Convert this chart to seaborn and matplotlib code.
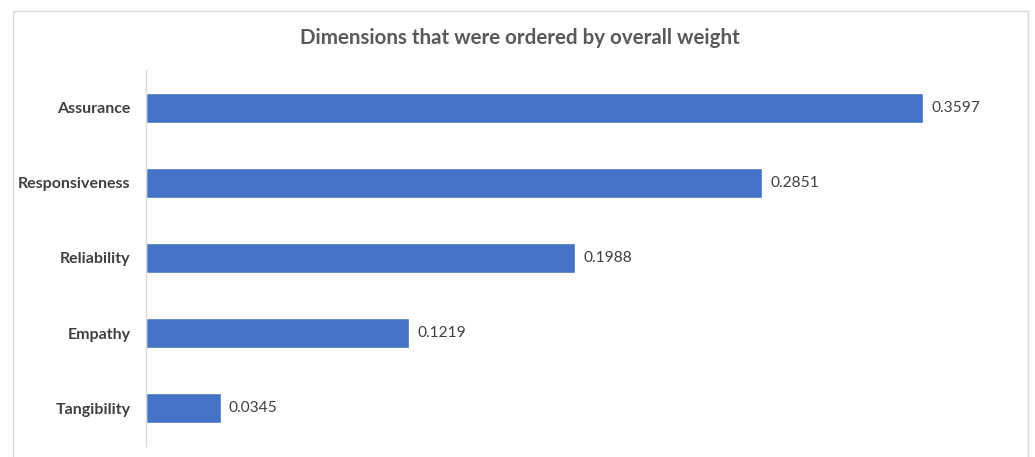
import matplotlib
matplotlib.use("Agg")
import matplotlib.pyplot as plt
import seaborn as sns
import pandas as pd
from matplotlib.patches import Rectangle

categories = ["Assurance", "Responsiveness", "Reliability", "Empathy", "Tangibility"]
weights = [0.3597, 0.2851, 0.1988, 0.1219, 0.0345]
value_labels = ["0.3597", "0.2851", "0.1988", "0.1219", "0.0345"]
title = "Dimensions that were ordered by overall weight"

df = pd.DataFrame({"dimension": categories, "weight": weights})

sns.set_theme(style="white")
plt.rcParams["font.family"] = ["Lato", "DejaVu Sans"]

W, H = 1035, 457
fig = plt.figure(figsize=(W / 100, H / 100), dpi=100)
ax = fig.add_axes([146 / W, (H - 446) / H, (1010 - 146) / W, (446 - 70) / H])

sns.barplot(data=df, y="dimension", x="weight", order=categories, color="#4472C4",
            saturation=1, width=0.4, ax=ax, orient="h")

ax.set_xlim(0, 0.4)
ax.set_ylim(4.5, -0.5)
ax.set_xlabel("")
ax.set_ylabel("")
ax.set_xticks([])
for s in ["top", "right", "bottom"]:
    ax.spines[s].set_visible(False)
ax.spines["left"].set_color("#d9d9d9")
ax.spines["left"].set_linewidth(1)
ax.tick_params(axis="y", length=0, pad=11)
for lab in ax.get_yticklabels():
    lab.set_fontweight("bold")
    lab.set_fontsize(11.5)
    lab.set_color("#404040")

ax.bar_label(ax.containers[0], labels=value_labels, padding=6, fontsize=11.2, color="#404040")

fig.text(520 / W, 1 - 38 / H, title, ha="center", va="center", fontsize=14.8,
         fontweight="bold", color="#595959")

fig.patches.append(Rectangle((13 / W, -0.05), (1028 - 13) / W, 1.05 - 11 / H,
                             transform=fig.transFigure, fill=False,
                             edgecolor="#d9d9d9", linewidth=1))

fig.savefig("out.png", dpi=100)
